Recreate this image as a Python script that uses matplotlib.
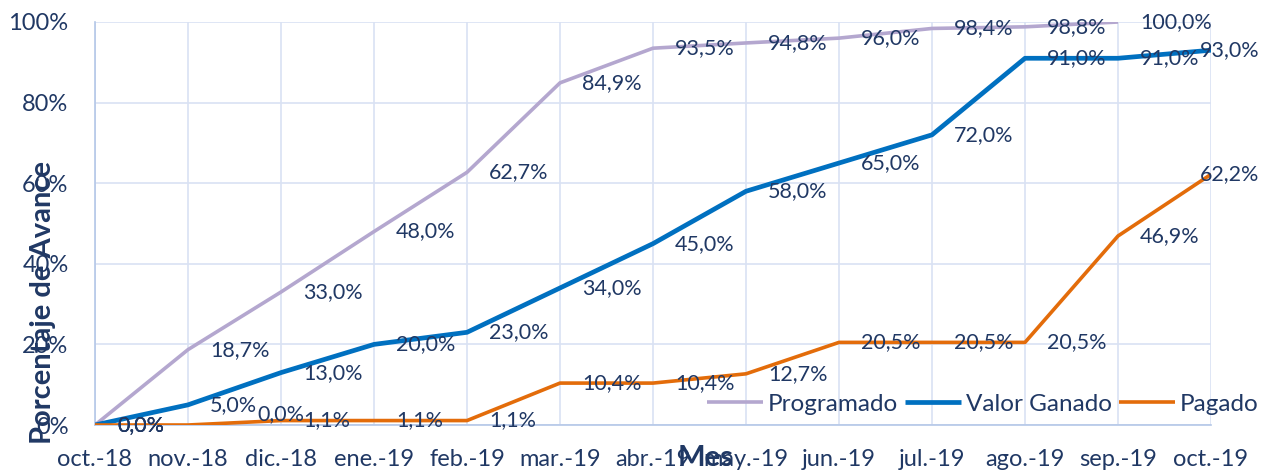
import matplotlib
matplotlib.use("Agg")
import matplotlib.pyplot as plt

meses = ["oct.-18", "nov.-18", "dic.-18", "ene.-19", "feb.-19", "mar.-19", "abr.-19",
         "may.-19", "jun.-19", "jul.-19", "ago.-19", "sep.-19", "oct.-19"]
programado = [0.0, 18.7, 33.0, 48.0, 62.7, 84.9, 93.5, 94.8, 96.0, 98.4, 98.8, 100.0]
valor_ganado = [0.0, 5.0, 13.0, 20.0, 23.0, 34.0, 45.0, 58.0, 65.0, 72.0, 91.0, 91.0, 93.0]
pagado = [0.0, 0.0, 1.1, 1.1, 1.1, 10.4, 10.4, 12.7, 20.5, 20.5, 20.5, 46.9, 62.2]

texto = "#203864"
plt.rcParams["font.family"] = ["Lato", "DejaVu Sans"]

fig = plt.figure(figsize=(12.62, 4.71), dpi=100)
ax = fig.add_axes([95 / 1262, 46 / 471, (1211 - 95) / 1262, (425 - 22) / 471])

series = [
    ("Programado", programado, "#B4A7CF", 2.6),
    ("Valor Ganado", valor_ganado, "#0070C0", 3.4),
    ("Pagado", pagado, "#E36C0A", 2.6),
]

for nombre, vals, color, lw in series:
    x = list(range(len(vals)))
    ax.plot(x, vals, color=color, lw=lw, label=nombre, solid_capstyle="butt", zorder=3)
    for i, v in enumerate(vals):
        dx, dy = 22, 0
        if i == len(meses) - 1:
            dx = -11
        # etiqueta movida a mano en el original
        if nombre == "Pagado" and i == 1:
            dx, dy = 69, 11
        ax.annotate(f"{v:.1f}".replace(".", ",") + "%", (i, v), xytext=(dx, dy),
                    textcoords="offset pixels", ha="left", va="center",
                    fontsize=15.5, color=texto, zorder=4, annotation_clip=False)

ax.set_xlim(0, len(meses) - 1)
ax.set_ylim(0, 100)
ax.set_xticks(range(len(meses)))
ax.set_xticklabels(meses)
ax.set_yticks(range(0, 101, 20))
ax.set_yticklabels([f"{t}%" for t in range(0, 101, 20)])
ax.tick_params(axis="both", length=0, labelsize=17, colors=texto)
ax.tick_params(axis="x", pad=17)
ax.tick_params(axis="y", pad=19)
ax.grid(True, color="#D9E2F3", lw=1.2, zorder=0)
for s in ["top", "right"]:
    ax.spines[s].set_visible(False)
for s in ["left", "bottom"]:
    ax.spines[s].set_color("#B4C7E7")
    ax.spines[s].set_linewidth(1.2)

fig.text(43 / 1262, 1 - 302 / 471, "Porcentaje de Avance", rotation=90, ha="center",
         va="center", fontsize=21, fontweight="bold", color=texto)
fig.text(706 / 1262, 1 - 458 / 471, "Mes", ha="center", va="center",
         fontsize=21, fontweight="bold", color=texto)

fig.legend(loc="center left", bbox_to_anchor=(707 / 1262, 1 - 404 / 471), ncol=3,
           frameon=False, fontsize=17.5, labelcolor=texto, handlelength=2.3,
           handletextpad=0.2, columnspacing=0.3, borderaxespad=0, borderpad=0)

fig.savefig("out.png", dpi=100)
